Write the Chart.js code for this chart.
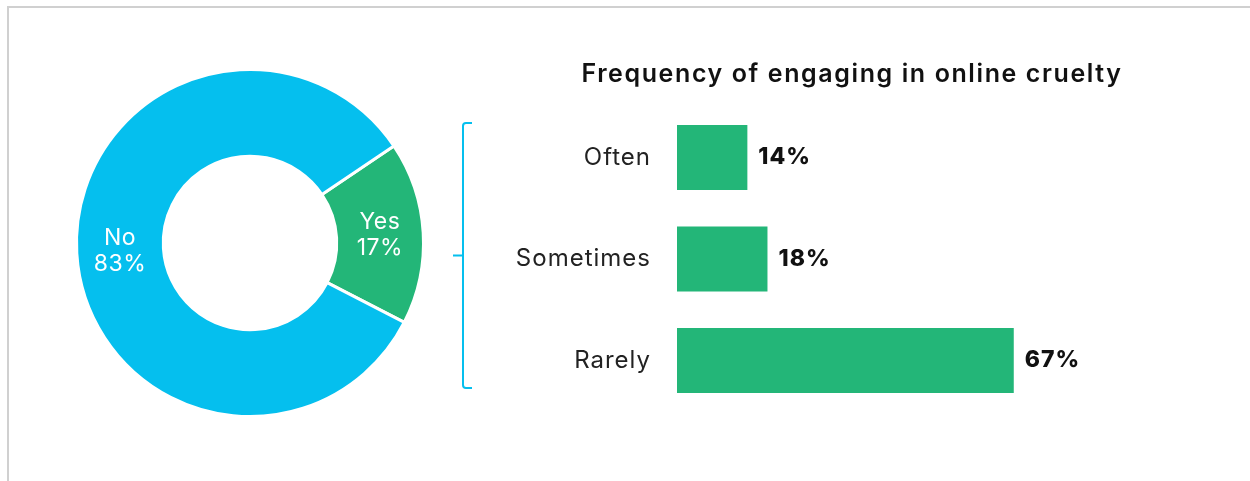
<!DOCTYPE html>
<html>
<head>
<meta charset="utf-8">
<script src="https://cdn.jsdelivr.net/npm/chart.js@4.4.0/dist/chart.umd.min.js"></script>
<style>
  html, body { margin: 0; padding: 0; background: #fff; }
  body { width: 1250px; height: 481px; position: relative; overflow: hidden; }
  .frame { position: absolute; left: 7px; top: 6px; right: -10px; bottom: -10px;
           border-top: 2px solid #d0d0d0; border-left: 2px solid #d0d0d0; }
  #donut { position: absolute; left: 60px; top: 60px; }
  #bars { position: absolute; left: 440px; top: 0; }
</style>
</head>
<body>
<div class="frame"></div>
<canvas id="donut" width="380" height="366"></canvas>
<canvas id="bars" width="810" height="481"></canvas>
<script>
// engaged in online cruelty at all
const donutLabels = ['Yes', 'No'];
const donutValues = [17, 83];

// how often, among those who said yes
const freqLabels = ['Often', 'Sometimes', 'Rarely'];
const freqValues = [14, 18, 67];
const chartTitle = 'Frequency of engaging in online cruelty';

const BLUE = '#05bfee';
const GREEN = '#23b678';
const FAMILY = 'Inter, "DejaVu Sans", sans-serif';
Chart.defaults.font.family = FAMILY;

// name + percent written in the middle of each ring segment
const ringLabels = {
  id: 'ringLabels',
  afterDatasetsDraw(chart) {
    const ctx = chart.ctx;
    const arcs = chart.getDatasetMeta(0).data;
    ctx.save();
    ctx.fillStyle = '#fff';
    ctx.font = '400 23px ' + FAMILY;
    ctx.letterSpacing = '0.5px';
    ctx.textAlign = 'center';
    ctx.textBaseline = 'middle';
    arcs.forEach((arc, i) => {
      const p = arc.tooltipPosition();
      ctx.fillText(donutLabels[i], p.x, p.y - 13);
      ctx.fillText(donutValues[i] + '%', p.x, p.y + 13);
    });
    ctx.restore();
  }
};

new Chart(document.getElementById('donut'), {
  type: 'doughnut',
  data: {
    labels: donutLabels,
    datasets: [{
      data: donutValues,
      backgroundColor: [GREEN, BLUE],
      borderColor: '#fff',
      borderWidth: 3,
    }]
  },
  options: {
    responsive: false,
    animation: false,
    rotation: 56,
    radius: 173.5,
    cutout: '50%',
    plugins: { legend: { display: false }, tooltip: { enabled: false } }
  },
  plugins: [ringLabels]
});

// wide-set heading, bold values at the bar ends, and the bracket tying the bars to "Yes"
const barExtras = {
  id: 'barExtras',
  beforeDraw(chart) {
    // category tick labels get a touch of tracking
    chart.ctx.letterSpacing = '1px';
  },
  afterDatasetsDraw(chart) {
    const ctx = chart.ctx;
    const bars = chart.getDatasetMeta(0).data;
    ctx.save();

    ctx.fillStyle = '#111';
    ctx.font = '600 25px ' + FAMILY;
    ctx.letterSpacing = '1.6px';
    ctx.textAlign = 'center';
    ctx.textBaseline = 'alphabetic';
    ctx.fillText(chartTitle, (chart.scales.y.left + chart.width) / 2, 82);

    ctx.font = '800 23px ' + FAMILY;
    ctx.letterSpacing = '1px';
    ctx.textAlign = 'left';
    ctx.textBaseline = 'middle';
    bars.forEach((bar, i) => {
      ctx.fillText(freqValues[i] + '%', bar.x + 11, bar.y);
    });

    const first = bars[0], last = bars[bars.length - 1];
    const top = first.y - first.height / 2 - 2;
    const bottom = last.y + last.height / 2 - 5;
    const mid = (top + bottom) / 2;
    const x = chart.scales.y.left + 9;
    ctx.strokeStyle = BLUE;
    ctx.lineWidth = 2;
    ctx.lineJoin = 'round';
    ctx.beginPath();
    ctx.moveTo(x + 9, top);
    ctx.arcTo(x, top, x, top + 4, 3);
    ctx.lineTo(x, bottom - 4);
    ctx.arcTo(x, bottom, x + 9, bottom, 3);
    ctx.lineTo(x + 9, bottom);
    ctx.moveTo(x, mid);
    ctx.lineTo(x - 10, mid);
    ctx.stroke();
    ctx.restore();
  }
};

new Chart(document.getElementById('bars'), {
  type: 'bar',
  data: {
    labels: freqLabels,
    datasets: [{
      data: freqValues,
      backgroundColor: GREEN,
      categoryPercentage: 0.8,
      barPercentage: 0.8,
    }]
  },
  options: {
    indexAxis: 'y',
    responsive: false,
    animation: false,
    layout: { padding: { left: 14, right: 0, top: 106.75, bottom: 69.75 } },
    plugins: {
      legend: { display: false },
      tooltip: { enabled: false }
    },
    scales: {
      x: { display: false, min: 0, max: 114 },
      y: {
        grid: { display: false, drawTicks: false },
        border: { display: false },
        ticks: { color: '#222', font: { size: 24 }, padding: 26 },
        afterFit(scale) { scale.width = 223; }
      }
    }
  },
  plugins: [barExtras]
});
</script>
</body>
</html>
